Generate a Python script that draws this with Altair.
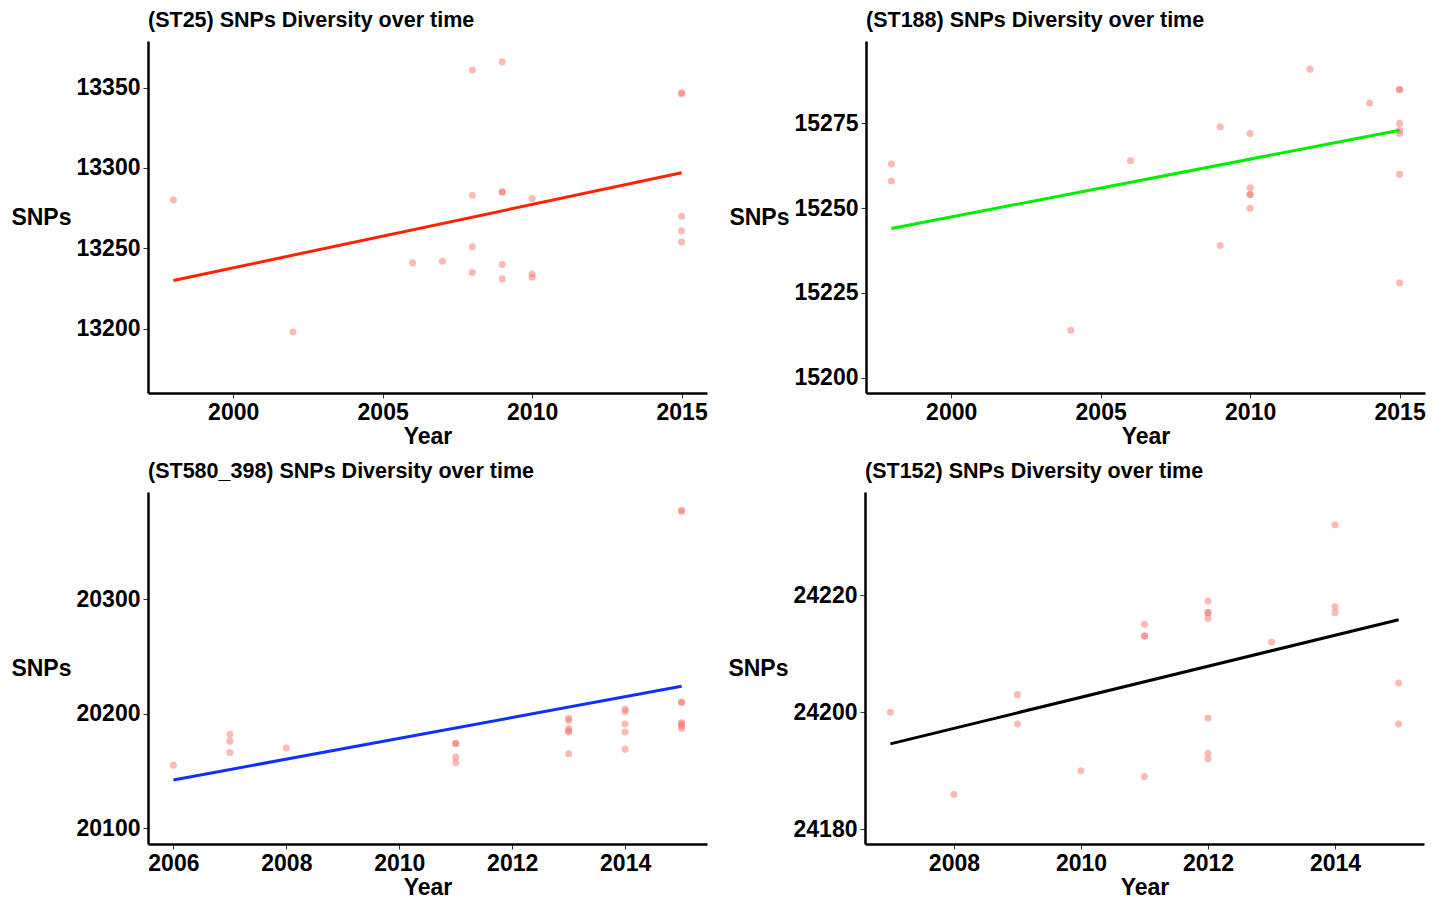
import altair as alt
import pandas as pd

# ---------------- data ----------------
# Panel 1: ST25
years_st25 = [1998, 2002, 2006, 2007, 2008, 2008, 2008, 2008, 2009, 2009, 2009, 2009, 2009,
              2010, 2010, 2010, 2015, 2015, 2015, 2015, 2015]
snps_st25 = [13280, 13198, 13241, 13242, 13361, 13283, 13251, 13235, 13366, 13285, 13285, 13240, 13231,
             13281, 13234, 13232, 13347, 13346, 13270, 13261, 13254]
fit_years_st25 = [1998, 2015]
fit_snps_st25 = [13230, 13297]

# Panel 2: ST188
years_st188 = [1998, 1998, 2004, 2006, 2009, 2009, 2010, 2010, 2010, 2010, 2010, 2012, 2014,
               2015, 2015, 2015, 2015, 2015, 2015, 2015]
snps_st188 = [15263, 15258, 15214, 15264, 15274, 15239, 15272, 15256, 15254, 15254, 15250, 15291, 15281,
              15285, 15285, 15275, 15273, 15272, 15260, 15228]
fit_years_st188 = [1998, 2015]
fit_snps_st188 = [15244, 15273]

# Panel 3: ST580_398
years_st580 = [2006, 2007, 2007, 2007, 2008, 2011, 2011, 2011, 2011, 2013, 2013, 2013, 2013, 2013, 2013,
               2014, 2014, 2014, 2014, 2014, 2015, 2015, 2015, 2015, 2015, 2015, 2015, 2015]
snps_st580 = [20155, 20182, 20176, 20166, 20170, 20174, 20174, 20162, 20157, 20196, 20194, 20187, 20185, 20184, 20165,
              20204, 20202, 20191, 20184, 20169, 20378, 20377, 20210, 20210, 20192, 20191, 20189, 20187]
fit_years_st580 = [2006, 2015]
fit_snps_st580 = [20142, 20224]

# Panel 4: ST152
years_st152 = [2007, 2008, 2009, 2009, 2010, 2011, 2011, 2011, 2011, 2012, 2012, 2012, 2012, 2012, 2012, 2012,
               2013, 2014, 2014, 2014, 2015, 2015]
snps_st152 = [24200, 24186, 24203, 24198, 24190, 24215, 24213, 24213, 24189, 24219, 24217, 24217, 24216, 24199, 24193, 24192,
              24212, 24232, 24218, 24217, 24205, 24198]
fit_years_st152 = [2007, 2015]
fit_snps_st152 = [24194.6, 24215.8]

titles = ["(ST25) SNPs Diversity over time", "(ST188) SNPs Diversity over time",
          "(ST580_398) SNPs Diversity over time", "(ST152) SNPs Diversity over time"]
line_colors = ["#ff2200", "#00ee00", "#1030ff", "#000000"]

W, H = 559, 352
FONT = "Liberation Sans"


def panel(title, years, snps, fyears, fsnps, color, xdom, ydom, xticks, yticks):
    pts = pd.DataFrame({"Year": years, "SNPs": snps})
    fit = pd.DataFrame({"Year": fyears, "SNPs": fsnps})
    x = alt.X("Year:Q", scale=alt.Scale(domain=xdom, nice=False, zero=False),
              axis=alt.Axis(values=xticks, format="d", title="Year", titlePadding=1))
    y = alt.Y("SNPs:Q", scale=alt.Scale(domain=ydom, nice=False, zero=False),
              axis=alt.Axis(values=yticks, format="d", title="SNPs", titleAngle=0,
                            titleAlign="right", titleBaseline="middle",
                            titleX=-77, titleY=H / 2))
    p = alt.Chart(pts).mark_circle(size=50, color="#F8766D", opacity=0.5, clip=True).encode(x=x, y=y)
    l = alt.Chart(fit).mark_line(color=color, strokeWidth=3, clip=True).encode(x=x, y=y)
    return alt.layer(p, l).properties(
        width=W, height=H,
        title=alt.TitleParams(title, anchor="start", frame="group", fontSize=21.5,
                              fontWeight="bold", font=FONT, color="black", offset=10),
    )


p1 = panel(titles[0], years_st25, snps_st25, fit_years_st25, fit_snps_st25, line_colors[0],
           [1997.15, 2015.85], [13160, 13379], [2000, 2005, 2010, 2015], [13200, 13250, 13300, 13350])
p2 = panel(titles[1], years_st188, snps_st188, fit_years_st188, fit_snps_st188, line_colors[1],
           [1997.15, 2015.85], [15195.5, 15299.3], [2000, 2005, 2010, 2015], [15200, 15225, 15250, 15275])
p3 = panel(titles[2], years_st580, snps_st580, fit_years_st580, fit_snps_st580, line_colors[2],
           [2005.55, 2015.45], [20086, 20394], [2006, 2008, 2010, 2012, 2014], [20100, 20200, 20300])
p4 = panel(titles[3], years_st152, snps_st152, fit_years_st152, fit_snps_st152, line_colors[3],
           [2006.6, 2015.4], [24177.5, 24237.6], [2008, 2010, 2012, 2014], [24180, 24200, 24220])

row1 = alt.hconcat(p1, p2, spacing=20)
row2 = alt.hconcat(p3, p4, spacing=20)
chart = alt.vconcat(row1, row2, spacing=12).properties(
    padding={"left": 2, "top": 1, "right": 0, "bottom": 0}
).configure_view(stroke=None).configure_axis(
    grid=False,
    domainColor="black",
    domainWidth=2.5,
    tickColor="#333333",
    tickWidth=1,
    tickSize=5,
    labelFont=FONT,
    labelFontSize=23,
    labelFontWeight="bold",
    labelColor="black",
    labelPadding=3,
    titleFont=FONT,
    titleFontSize=23,
    titleFontWeight="bold",
    titleColor="black",
).configure_axisX(labelFlush=False)

chart.save("out.html", embed_options={"renderer": "svg", "actions": False})
